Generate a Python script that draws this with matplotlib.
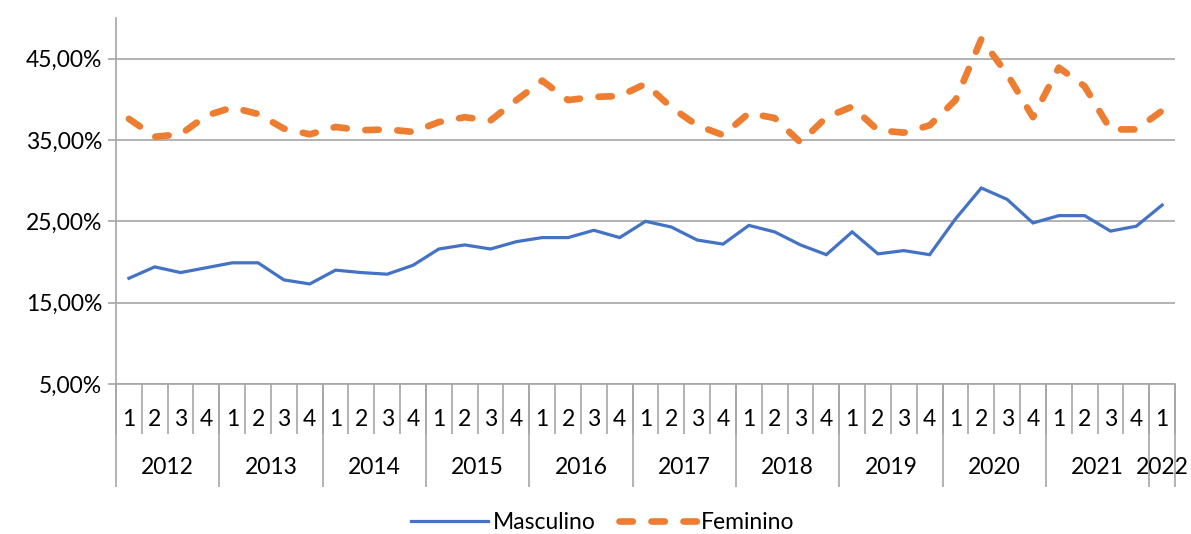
import numpy as np
import matplotlib.pyplot as plt
from matplotlib.ticker import FuncFormatter

plt.rcParams['font.family'] = ['Lato', 'DejaVu Sans']

# Quarterly series, 2012 Q1 .. 2022 Q1 (values in %)
years = ['2012', '2013', '2014', '2015', '2016', '2017', '2018', '2019', '2020', '2021', '2022']
quarters = ['1', '2', '3', '4'] * 10 + ['1']

masculino = [18.0, 19.4, 18.7, 19.3, 19.9, 19.9, 17.8, 17.3, 19.0, 18.7,
             18.5, 19.6, 21.6, 22.1, 21.6, 22.5, 23.0, 23.0, 23.9, 23.0,
             25.0, 24.3, 22.7, 22.2, 24.5, 23.7, 22.1, 20.9, 23.7, 21.0,
             21.4, 20.9, 25.3, 29.1, 27.7, 24.8, 25.7, 25.7, 23.8, 24.4,
             27.0]
feminino = [37.6, 35.4, 35.7, 38.0, 39.0, 38.2, 36.4, 35.7, 36.6, 36.2,
            36.3, 36.0, 37.2, 37.8, 37.4, 39.9, 42.3, 39.9, 40.3, 40.4,
            41.9, 39.0, 36.8, 35.6, 38.3, 37.7, 34.7, 37.8, 39.1, 36.2,
            35.9, 36.8, 39.9, 47.4, 43.1, 37.8, 43.9, 41.6, 36.3, 36.3,
            38.6]

grid_col = '#A6A6A6'
fs = 16.5
x = np.arange(len(quarters))

fig = plt.figure(figsize=(11.91, 5.34), dpi=100)
ax = fig.add_axes([0.0974, 0.2809, 0.8892, 0.6854])

ax.plot(x, masculino, color='#4472C4', lw=2.3, solid_joinstyle='miter', label='Masculino')
ax.plot(x, feminino, color='#ED7D31', lw=4.8, ls=(0, (2.0, 2.8)),
        dash_capstyle='round', label='Feminino')

ax.set_xlim(-0.5, len(quarters) - 0.5)
ax.set_ylim(5, 50)
ax.set_yticks([5, 15, 25, 35, 45])
ax.yaxis.set_major_formatter(FuncFormatter(lambda v, p: f'{v:.2f}%'.replace('.', ',')))
ax.grid(axis='y', color=grid_col, lw=1.2)
ax.set_axisbelow(True)
for s in ['top', 'right']:
    ax.spines[s].set_visible(False)
for s in ['left', 'bottom']:
    ax.spines[s].set_color(grid_col)
    ax.spines[s].set_linewidth(1.2)
ax.tick_params(axis='y', length=6, color=grid_col, width=1.2, labelsize=fs, pad=4)
ax.tick_params(axis='x', length=0, labelbottom=False)

# multi-level category axis
tr = ax.get_xaxis_transform()
bounds = np.arange(len(quarters) + 1) - 0.5
ax.vlines(bounds, -0.137, 0, transform=tr, colors=grid_col, lw=1.2, clip_on=False)
year_bounds = bounds[::4].tolist() + [bounds[-1]]
ax.vlines(year_bounds, -0.282, 0, transform=tr, colors=grid_col, lw=1.2, clip_on=False)
for xi, q in zip(x, quarters):
    ax.text(xi, -0.098, q, transform=tr, ha='center', va='center', fontsize=fs)
for i, yr in enumerate(years):
    grp = x[i * 4:(i + 1) * 4]
    ax.text(grp.mean(), -0.2295, yr, transform=tr, ha='center', va='center', fontsize=fs)

fig.legend(loc='center', bbox_to_anchor=(0.506, 0.021), ncol=2, frameon=False,
           fontsize=fs, handlelength=3.4, columnspacing=1.0, handletextpad=0.2)

fig.savefig('out.png', dpi=100)
